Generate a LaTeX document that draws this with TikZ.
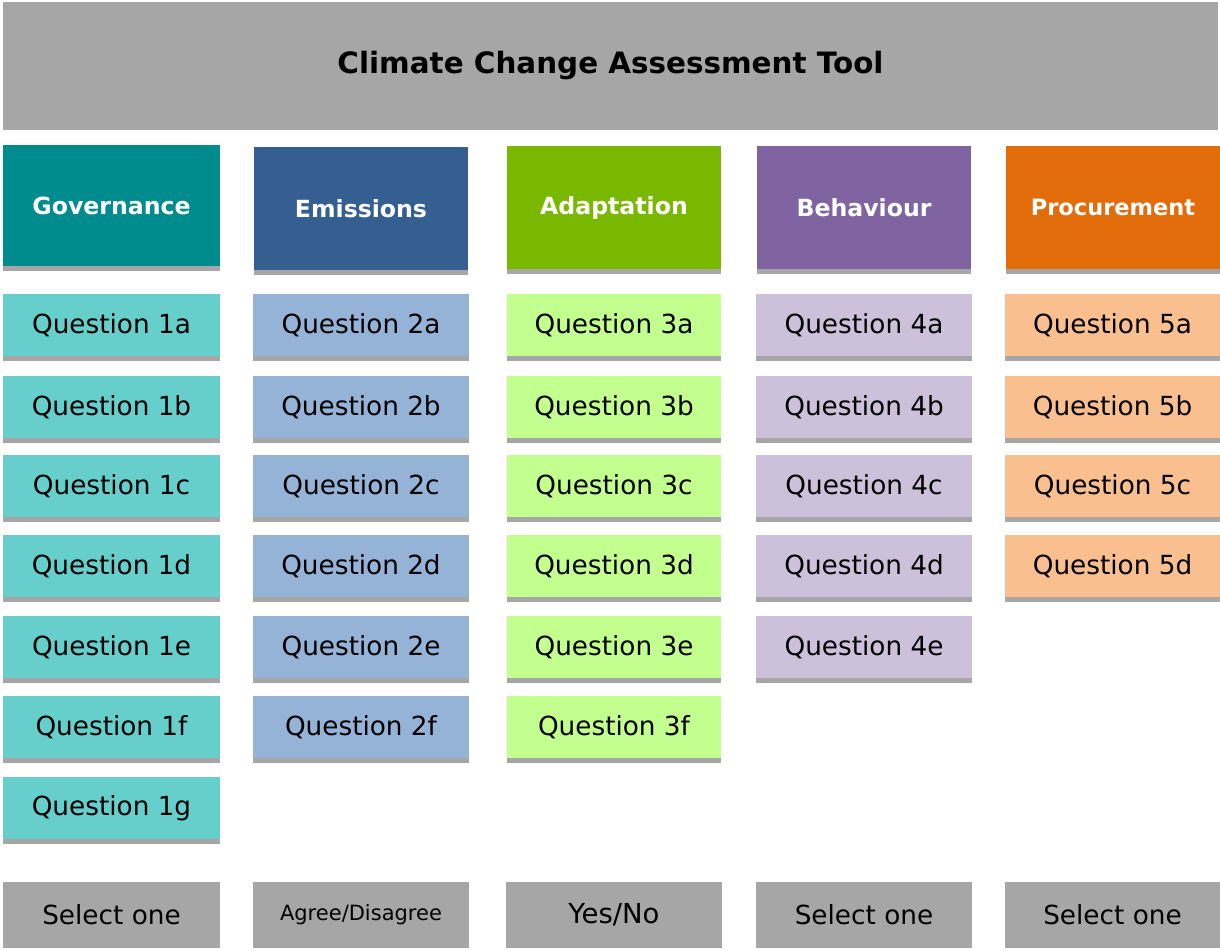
\documentclass[tikz,border=0pt]{standalone}
\usepackage{fontspec}
\setmainfont{DejaVu Sans}
\definecolor{barGray}{HTML}{A6A6A6}
\definecolor{govHead}{HTML}{008B8F}
\definecolor{govQ}{HTML}{66CFCB}
\definecolor{emiHead}{HTML}{365F91}
\definecolor{emiQ}{HTML}{95B3D7}
\definecolor{adaHead}{HTML}{7AB800}
\definecolor{adaQ}{HTML}{C3FF8F}
\definecolor{behHead}{HTML}{8064A2}
\definecolor{behQ}{HTML}{CCC0DA}
\definecolor{proHead}{HTML}{E36C0A}
\definecolor{proQ}{HTML}{F9BF8F}
\tikzset{
  x=1pt, y=-1pt,
  % coloured block with a grey strip underneath
  box/.style={rectangle, inner sep=0pt, draw=none, fill=#1,
    append after command={\pgfextra{
      \fill[barGray] (\tikzlastnode.south west)
        rectangle ([yshift=-5pt]\tikzlastnode.south east);}}},
  headbox/.style={box=#1, text=white,
    font=\fontsize{23.6}{26}\selectfont\bfseries},
  qbox/.style={box=#1, minimum height=62pt,
    font=\fontsize{26.3}{29}\selectfont},
  selbox/.style={rectangle, inner sep=0pt, fill=barGray, minimum height=66pt,
    font=\fontsize{26.3}{29}\selectfont},
  titlebox/.style={rectangle, inner sep=0pt, fill=barGray,
    minimum width=1215pt, minimum height=128pt,
    font=\fontsize{29.4}{32}\selectfont\bfseries},
}
\begin{document}
\begin{tikzpicture}
\useasboundingbox (0,0) rectangle (1220,950);
\fill[white] (0,0) rectangle (1220,950);

\node[titlebox] (title) at (610.5,66) {Climate Change Assessment Tool};

% column headers
\node[headbox=govHead, minimum width=217pt, minimum height=121pt] (h1) at (111.5,205.5) {Governance};
\node[headbox=emiHead, minimum width=214pt, minimum height=123pt] (h2) at (361,208.5) {Emissions};
\node[headbox=adaHead, minimum width=214pt, minimum height=123pt] (h3) at (614,207.5) {Adaptation};
\node[headbox=behHead, minimum width=214pt, minimum height=123pt] (h4) at (864,207.5) {Behaviour};
\node[headbox=proHead, minimum width=214pt, minimum height=123pt,
      font=\fontsize{22.5}{25}\selectfont\bfseries] (h5) at (1113,207.5) {Procurement};

% question rows
\foreach \r/\t in {a/294,b/376,c/455,d/535,e/616,f/696,g/777}{
  \node[qbox=govQ, minimum width=217pt] (q1\r) at (111.5,\t+31) {Question 1\r};
}
\foreach \r/\t in {a/294,b/376,c/455,d/535,e/616,f/696}{
  \node[qbox=emiQ, minimum width=216pt] (q2\r) at (361,\t+31) {Question 2\r};
  \node[qbox=adaQ, minimum width=214pt] (q3\r) at (614,\t+31) {Question 3\r};
}
\foreach \r/\t in {a/294,b/376,c/455,d/535,e/616}{
  \node[qbox=behQ, minimum width=216pt] (q4\r) at (864,\t+31) {Question 4\r};
}
\foreach \r/\t in {a/294,b/376,c/455,d/535}{
  \node[qbox=proQ, minimum width=215pt] (q5\r) at (1112.5,\t+31) {Question 5\r};
}

% answer selectors
\node[selbox, minimum width=217pt] (s1) at (111.5,915) {Select one};
\node[selbox, minimum width=216pt, font=\fontsize{21}{24}\selectfont] (s2) at (361,915) {Agree/Disagree};
\node[selbox, minimum width=216pt, font=\fontsize{27.5}{30}\selectfont] (s3) at (614,915) {Yes/No};
\node[selbox, minimum width=216pt] (s4) at (864,915) {Select one};
\node[selbox, minimum width=215pt] (s5) at (1112.5,915) {Select one};
\end{tikzpicture}
\end{document}
